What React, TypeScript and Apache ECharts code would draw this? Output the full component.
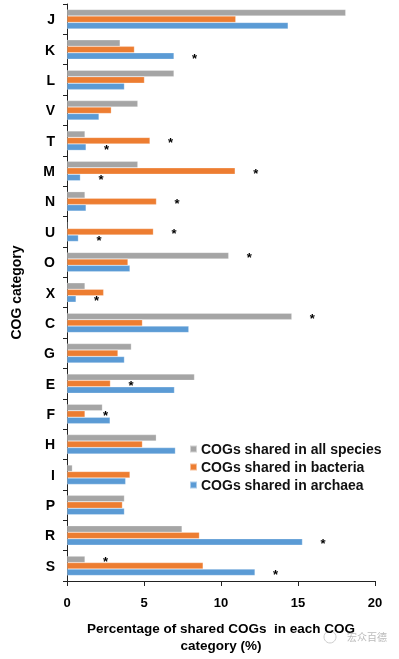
import React, { useEffect, useRef } from "react";
import * as echarts from "echarts";

const categories = ["J", "K", "L", "V", "T", "M", "N", "U", "O", "X", "C", "G", "E", "F", "H", "I", "P", "R", "S"];
const allSpecies = [18.1, 3.45, 6.95, 4.6, 1.17, 4.6, 1.17, 0, 10.5, 1.17, 14.6, 4.18, 8.28, 2.3, 5.8, 0.35, 3.73, 7.47, 1.17];
const bacteria = [10.96, 4.38, 5.03, 2.88, 5.39, 10.92, 5.81, 5.61, 3.96, 2.38, 4.9, 3.31, 2.82, 1.17, 4.9, 4.09, 3.6, 8.6, 8.84];
const archaea = [14.36, 6.95, 3.73, 2.08, 1.24, 0.87, 1.24, 0.74, 4.09, 0.59, 7.91, 3.73, 6.98, 2.8, 7.04, 3.81, 3.73, 15.29, 12.21];
// significance markers (*)
const starAll = ["O", "C", "S"];
const starBacteria = ["T", "M", "N", "U", "E", "F"];
const starArchaea = ["K", "T", "M", "U", "X", "R", "S"];

const seriesNames = ["COGs shared in all species", "COGs shared in bacteria", "COGs shared in archaea"];
const colors = ["#A5A5A5", "#ED7D31", "#5B9BD5"];
const xTicks = [0, 5, 10, 15, 20];

const FONT = "'Liberation Sans', Arial, sans-serif";

function withStars(values: number[], stars: string[]) {
  return values.map((v, i) =>
    stars.includes(categories[i])
      ? {
          value: v,
          label: {
            show: true,
            position: "right",
            distance: 18,
            formatter: "*",
            fontSize: 13,
            fontWeight: "bold",
            fontFamily: FONT,
            color: "#000",
            offset: [0, 2],
          },
        }
      : v
  );
}

export default function App() {
  const ref = useRef<HTMLDivElement>(null);
  useEffect(() => {
    const chart = echarts.init(ref.current!, null, { renderer: "svg" });
    const data = [withStars(allSpecies, starAll), withStars(bacteria, starBacteria), withStars(archaea, starArchaea)];
    chart.setOption({
      animation: false,
      textStyle: { fontFamily: FONT },
      grid: { left: 67, top: 4, right: 24, bottom: 70, containLabel: false },
      legend: {
        orient: "vertical",
        left: 184,
        top: 437,
        icon: "rect",
        itemWidth: 7,
        itemHeight: 7,
        itemGap: 4,
        data: seriesNames,
        textStyle: { fontSize: 14, fontWeight: "bold", color: "#111", fontFamily: FONT, padding: [0, 0, 0, -1] },
      },
      xAxis: {
        type: "value",
        min: xTicks[0],
        max: xTicks[xTicks.length - 1],
        interval: 5,
        splitLine: { show: false },
        axisLine: { show: true, lineStyle: { color: "#222", width: 1 } },
        axisTick: { show: true, length: 5, lineStyle: { color: "#222" } },
        axisLabel: { fontSize: 13, fontWeight: "bold", color: "#000", margin: 15, fontFamily: FONT },
        name: "Percentage of shared COGs  in each COG\ncategory (%)",
        nameLocation: "middle",
        nameGap: 39,
        nameTextStyle: { fontSize: 13.5, fontWeight: "bold", color: "#000", lineHeight: 17, fontFamily: FONT },
      },
      yAxis: {
        type: "category",
        inverse: true,
        data: categories,
        axisLine: { show: true, lineStyle: { color: "#222", width: 1 } },
        axisTick: { show: true, length: 4, inside: false, lineStyle: { color: "#222" } },
        axisLabel: { fontSize: 14, fontWeight: "bold", color: "#000", margin: 12, fontFamily: FONT },
        name: "COG category",
        nameLocation: "middle",
        nameGap: 44,
        nameRotate: 90,
        nameTextStyle: { fontSize: 14, fontWeight: "bold", color: "#000", fontFamily: FONT },
      },
      series: seriesNames.map((name, k) => ({
        name,
        type: "bar",
        data: data[k],
        barGap: "0%",
        barCategoryGap: "36%",
        itemStyle: { color: colors[k], borderColor: "rgba(255,255,255,0.5)", borderWidth: 0.5 },
      })),
      graphic: [
        {
          type: "circle",
          shape: { cx: 330, cy: 637, r: 6 },
          style: { fill: "none", stroke: "#ccc", lineWidth: 1 },
        },
        {
          type: "text",
          left: 347,
          top: 631,
          style: { text: "宏众百德", fontSize: 10, fill: "#bbb", fontFamily: "'Noto Sans CJK SC'" },
        },
      ],
    });
    return () => chart.dispose();
  }, []);
  return <div ref={ref} style={{ position: "fixed", left: 0, top: 0, width: 399, height: 659 }} />;
}
